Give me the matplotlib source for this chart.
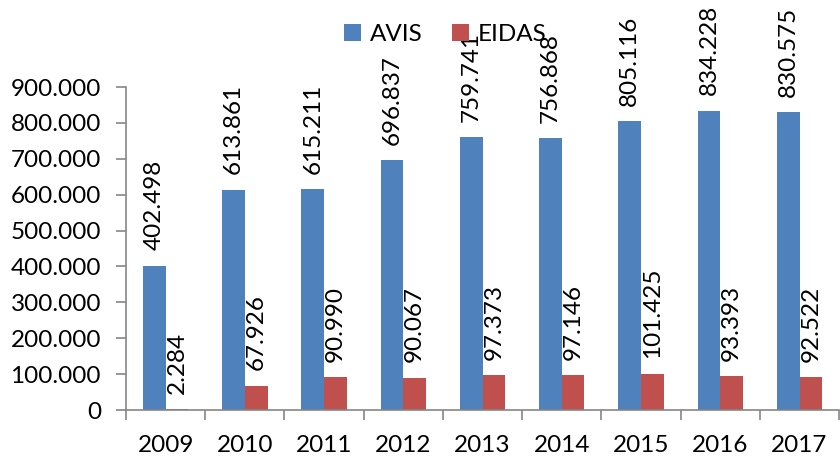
import numpy as np
import matplotlib
matplotlib.use("Agg")
import matplotlib.pyplot as plt
from matplotlib.ticker import FuncFormatter, MultipleLocator

years = ["2009", "2010", "2011", "2012", "2013", "2014", "2015", "2016", "2017"]
avis = [402498, 613861, 615211, 696837, 759741, 756868, 805116, 834228, 830575]
eidas = [2284, 67926, 90990, 90067, 97373, 97146, 101425, 93393, 92522]

blue = "#4F81BD"
red = "#C0504D"
grey = "#868686"

plt.rcParams["font.family"] = ["Lato", "DejaVu Sans"]
fontSize = 17.5


def dotThousands(v, pos=None):
    return "{:,.0f}".format(v).replace(",", ".")


fig = plt.figure(figsize=(8.4, 4.58), dpi=100)
ax = fig.add_axes([0.15, 0.1048, 0.849, 0.7052])

x = np.arange(len(years))
barWidth = 1 / 3.5

avisBars = ax.bar(x - barWidth / 2, avis, barWidth, color=blue, label="AVIS")
eidasBars = ax.bar(x + barWidth / 2, eidas, barWidth, color=red, label="EIDAS")

for bars, vals in ((avisBars, avis), (eidasBars, eidas)):
    for b, v in zip(bars, vals):
        ax.annotate(dotThousands(v), (b.get_x() + b.get_width() / 2, v),
                    xytext=(0, 11), textcoords="offset points",
                    rotation=90, ha="center", va="bottom",
                    fontsize=fontSize, color="black", annotation_clip=False)

ax.set_xlim(-0.5, len(years) - 0.5)
ax.set_ylim(0, 900000)
ax.yaxis.set_major_locator(MultipleLocator(100000))
ax.yaxis.set_major_formatter(FuncFormatter(dotThousands))

# category labels in the middle, tick marks on the boundaries
ax.set_xticks(x)
ax.set_xticklabels(years)
ax.set_xticks(np.arange(len(years) + 1) - 0.5, minor=True)
ax.tick_params(axis="x", which="major", length=0, pad=18, labelsize=fontSize)
ax.tick_params(axis="x", which="minor", length=7, width=1.2, color=grey, direction="out")
ax.tick_params(axis="y", length=7, width=1.2, color=grey, pad=11, labelsize=fontSize)

for side in ("top", "right"):
    ax.spines[side].set_visible(False)
for side in ("left", "bottom"):
    ax.spines[side].set_color(grey)
    ax.spines[side].set_linewidth(1.2)

fig.legend(handles=[avisBars, eidasBars], loc="center", bbox_to_anchor=(0.53, 0.925),
           ncol=2, frameon=False, fontsize=fontSize, handlelength=0.7, handleheight=0.7,
           handletextpad=0.35, columnspacing=1.2, borderpad=0)

fig.savefig("out.png", dpi=100)
